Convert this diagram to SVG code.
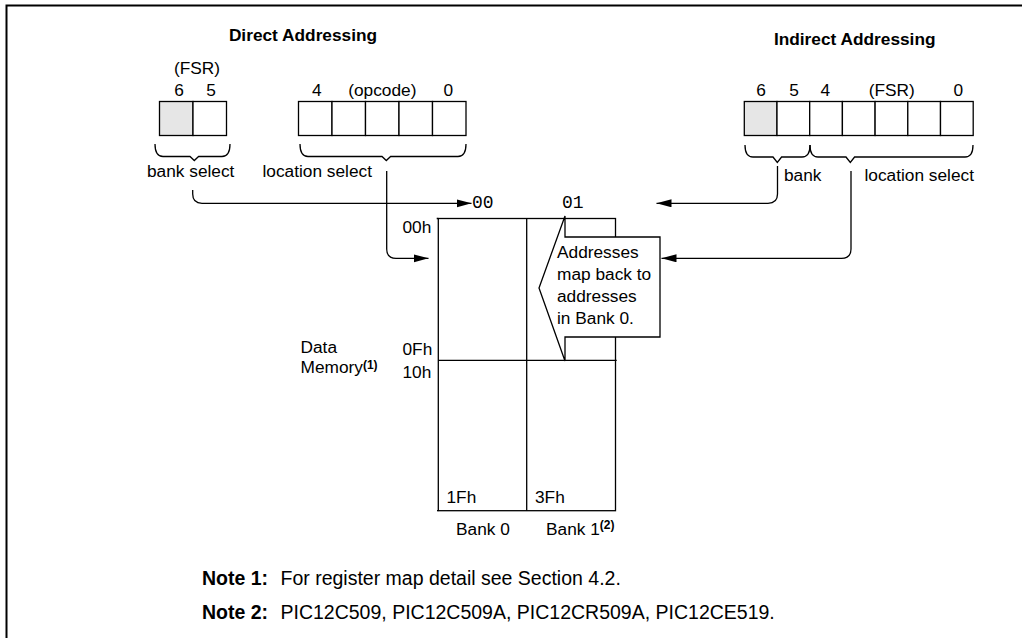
<svg xmlns="http://www.w3.org/2000/svg" width="1022" height="638" viewBox="0 0 1022 638">
<defs>
<marker id="arr" markerUnits="userSpaceOnUse" markerWidth="16" markerHeight="10" refX="15" refY="4" orient="auto">
<path d="M0,0 L15,4 L0,8 z" fill="#000"/>
</marker>
</defs>
<style>
text{font-family:"Liberation Sans",Arial,sans-serif;font-size:17.3px;fill:#000}
.b{font-weight:bold}
.m{font-family:"Liberation Mono","Courier New",monospace;font-size:18px}
.n{font-size:19.5px}
.sup{font-size:12px;font-weight:bold}
.ln{fill:none;stroke:#000;stroke-width:1.3}
.cell{fill:#fff;stroke:#000;stroke-width:1.3}
.g{fill:#e6e6e6}
.c{fill:none;stroke:#000;stroke-width:1.3;marker-end:url(#arr)}
</style>
<rect width="1022" height="638" fill="#fff"/>
<path d="M6.5,638 V5.5 H1022" fill="none" stroke="#000" stroke-width="2"/>

<g id="titles">
<text class="b" x="303" y="40.5" text-anchor="middle">Direct Addressing</text>
<text class="b" x="854.7" y="45" text-anchor="middle">Indirect Addressing</text>
</g>

<g id="direct-fsr">
<text x="197" y="74" text-anchor="middle">(FSR)</text>
<text x="179" y="96" text-anchor="middle">6</text>
<text x="211" y="96" text-anchor="middle">5</text>
<rect class="cell g" x="159.5" y="101.5" width="33.5" height="34"/>
<rect class="cell" x="193" y="101.5" width="33.5" height="34"/>
<path class="ln" d="M155,144 Q155,156.5 163,156.5 H190 L194.3,160.5 L198.6,156.5 H222 Q230,156.5 230,144"/>
<text x="147" y="176.7">bank select</text>
</g>

<g id="direct-opcode">
<text x="316.7" y="96" text-anchor="middle">4</text>
<text x="382.3" y="96" text-anchor="middle">(opcode)</text>
<text x="448.3" y="96" text-anchor="middle">0</text>
<rect class="cell" x="298.5" y="101.5" width="33.5" height="34"/>
<rect class="cell" x="332" y="101.5" width="33.5" height="34"/>
<rect class="cell" x="365.5" y="101.5" width="33.5" height="34"/>
<rect class="cell" x="399" y="101.5" width="33.5" height="34"/>
<rect class="cell" x="432.5" y="101.5" width="33.5" height="34"/>
<path class="ln" d="M300,144 Q300,156.5 308,156.5 H382 L386.3,160.5 L390.6,156.5 H458 Q466,156.5 466,144"/>
<text x="262.5" y="177">location select</text>
</g>

<g id="indirect-fsr">
<text x="761" y="96" text-anchor="middle">6</text>
<text x="794" y="96" text-anchor="middle">5</text>
<text x="825.3" y="96" text-anchor="middle">4</text>
<text x="891.7" y="96" text-anchor="middle">(FSR)</text>
<text x="958.3" y="96" text-anchor="middle">0</text>
<rect class="cell g" x="744.3" y="101.5" width="32.7" height="34"/>
<rect class="cell" x="777" y="101.5" width="32.7" height="34"/>
<rect class="cell" x="809.7" y="101.5" width="32.7" height="34"/>
<rect class="cell" x="842.4" y="101.5" width="32.7" height="34"/>
<rect class="cell" x="875.1" y="101.5" width="32.7" height="34"/>
<rect class="cell" x="907.8" y="101.5" width="32.7" height="34"/>
<rect class="cell" x="940.5" y="101.5" width="32.7" height="34"/>
<path class="ln" d="M745,145 Q745,157 753,157 H773 L777.3,162.5 L781.6,157 H802 Q810,157 810,145"/>
<path class="ln" d="M810,145 Q810,157 818,157 H846 L850.3,162.5 L854.6,157 H965 Q973,157 973,145"/>
<text x="784" y="181">bank</text>
<text x="864.5" y="181">location select</text>
</g>

<g id="memory">
<rect class="ln" x="438.3" y="218.5" width="177.2" height="292.2"/>
<path class="ln" d="M436.7,218.5 H438.3 M526.7,218.5 V510.7 M438.3,360.3 H616.7 M437,510.7 H438.3"/>
<text class="m" x="472" y="208">00</text>
<text class="m" x="562" y="208">01</text>
<text x="402.5" y="233">00h</text>
<text x="402.5" y="355">0Fh</text>
<text x="402.5" y="378">10h</text>
<text x="300.5" y="352.7">Data</text>
<text x="300.5" y="373.3">Memory<tspan class="sup" dy="-4">(1)</tspan></text>
<text x="446.5" y="503.3">1Fh</text>
<text x="535" y="503.3">3Fh</text>
<text x="456" y="535">Bank 0</text>
<text x="546" y="535">Bank 1<tspan class="sup" dy="-6">(2)</tspan></text>
</g>

<g id="callout">
<path d="M565,216 V237 H660 V337 H565 V361 L539,288 Z" fill="#fff" stroke="#000" stroke-width="1.3"/>
<text x="557" y="258">Addresses</text>
<text x="557" y="280">map back to</text>
<text x="557" y="302">addresses</text>
<text x="557" y="324">in Bank 0.</text>
</g>

<g id="connectors">
<path class="c" d="M192.7,190 V194 Q192.7,203.3 202,203.3 H471.5"/>
<path class="c" d="M386.7,171 V249 Q386.7,258.3 396,258.3 H428.5"/>
<path class="c" d="M777.5,166 V194 Q777.5,203.3 768,203.3 H656.5"/>
<path class="c" d="M851,171 V249 Q851,258.3 841.5,258.3 H661.5"/>
</g>

<g id="notes">
<text class="b n" x="202" y="585">Note 1:</text>
<text class="n" x="280.5" y="585">For register map detail see Section 4.2.</text>
<text class="b n" x="202" y="619">Note 2:</text>
<text class="n" x="280.5" y="619">PIC12C509, PIC12C509A, PIC12CR509A, PIC12CE519.</text>
</g>
</svg>
